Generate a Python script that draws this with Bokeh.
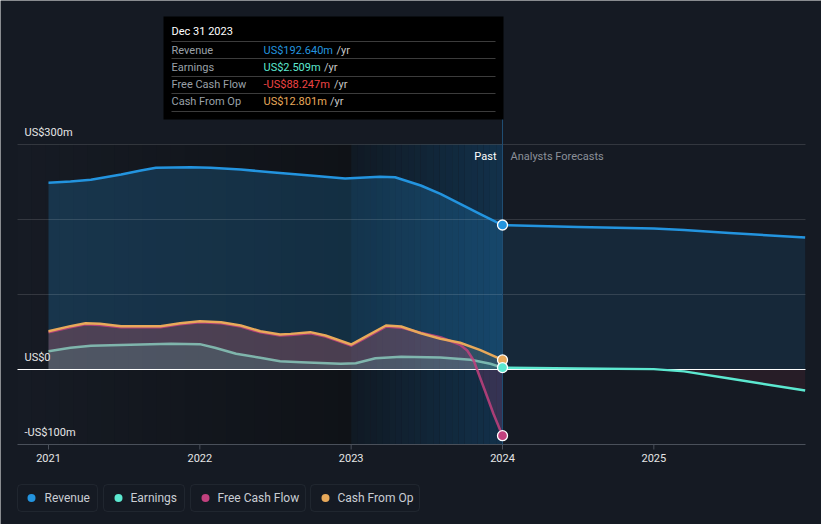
import numpy as np
from bokeh.plotting import figure
from bokeh.models import Range1d, Label, BoxAnnotation
from bokeh.embed import file_html
from bokeh.resources import INLINE

# ---------------- data (fractional years, US$ millions) ----------------
revenue_dates = [2021.00, 2021.145, 2021.28, 2021.48, 2021.61, 2021.71, 2021.94, 2022.07, 2022.27,
                 2022.47, 2022.73, 2022.96, 2023.19, 2023.29, 2023.46, 2023.59, 2023.72, 2023.85,
                 2024.00]
revenue_past = [249, 250.7, 253, 260, 265.3, 268.9, 269.7, 269, 266.7,
                263, 258.7, 254.7, 257, 256.4, 245.3, 234.2, 220.9, 207.6,
                192.64]

earnings_dates = [2021.00, 2021.145, 2021.28, 2021.54, 2021.81, 2022.00, 2022.10, 2022.24, 2022.40,
                  2022.53, 2022.67, 2022.93, 2023.03, 2023.16, 2023.33, 2023.59, 2023.79, 2023.92,
                  2024.00]
earnings_past = [24.4, 28.9, 31.6, 32.9, 34.2, 33.8, 28.9, 20.9, 15.6,
                 11.1, 9.8, 7.6, 8.4, 15.1, 16.9, 16, 12.9, 7.6,
                 2.509]

cfo_dates = [2021.00, 2021.145, 2021.245, 2021.34, 2021.48, 2021.74, 2021.87, 2022.00, 2022.14,
             2022.27, 2022.40, 2022.53, 2022.60, 2022.73, 2022.83, 2023.00, 2023.09, 2023.23,
             2023.33, 2023.46, 2023.59, 2023.72, 2023.85, 2024.00]
cfo_past = [51, 57.8, 61.8, 60.9, 57.8, 57.8, 61.8, 64.4, 63,
            58.7, 51, 46.7, 47.5, 49.8, 45.3, 33.3, 43.1, 58.7,
            57.3, 48.4, 40.9, 35.6, 26.2, 12.801]

fcf_dates = [2021.00, 2021.145, 2021.245, 2021.34, 2021.48, 2021.74, 2021.87, 2022.00, 2022.14,
             2022.27, 2022.40, 2022.53, 2022.60, 2022.73, 2022.83, 2023.00, 2023.09, 2023.23,
             2023.33, 2023.46, 2023.59, 2023.72, 2023.767, 2023.81, 2023.85, 2023.90, 2023.94,
             2024.00]
fcf_past = [49.5, 56.3, 60.3, 59.4, 56.3, 56.3, 60.3, 62.9, 61.5,
            57.2, 49.5, 45.2, 46, 48.3, 43.8, 31.8, 41.6, 57.2,
            55.8, 49, 43, 33, 25.3, 12, -10, -37, -59,
            -88.247]

forecast_dates = [2024.0, 2024.5, 2025.0, 2025.2, 2025.5, 2026.0]
revenue_forecast = [192.64, 190, 188, 186, 182, 176]
earnings_forecast = [2.509, 1.3, 0.5, -2.5, -12, -28]

grid_values = [300, 200, 100]
y_tick_values = [300, 0, -100]
y_tick_labels = ["US$300m", "US$0", "-US$100m"]
x_tick_values = [2021, 2022, 2023, 2024, 2025]
x_tick_labels = ["2021", "2022", "2023", "2024", "2025"]

tooltip_title = "Dec 31 2023"
tooltip_names = ["Revenue", "Earnings", "Free Cash Flow", "Cash From Op"]
tooltip_values = ["US$192.640m", "US$2.509m", "-US$88.247m", "US$12.801m"]
legend_names = ["Revenue", "Earnings", "Free Cash Flow", "Cash From Op"]

# ---------------- style ----------------
BG = "#151a23"
REV = "#2394df"
EARN = "#5ce8d0"
EARN_PAST = "#8ccfc0"
FCF = "#c2417e"
CFO = "#e8a95a"
FCF_TXT = "#ef4444"
FONT = "Roboto"

W, H = 821, 524
PPY = (502 - 48) / 3.0  # pixels per year


def dx(px):
    return 2021 + (px - 48) / PPY


def dy(py):
    return (369 - py) / 0.75


def mix(c1, c2, t):
    a = [int(c1[i:i + 2], 16) for i in (1, 3, 5)]
    b = [int(c2[i:i + 2], 16) for i in (1, 3, 5)]
    return "#" + "".join("%02x" % int(round(a[k] + (b[k] - a[k]) * t)) for k in range(3))


p = figure(width=W, height=H, x_range=Range1d(dx(0), dx(W)), y_range=Range1d(dy(H), dy(0)),
           output_backend="svg", toolbar_location=None, min_border=0,
           x_axis_location=None, y_axis_location=None,
           background_fill_color=BG, border_fill_color=BG, outline_line_color=None)
p.grid.visible = False

# background bands (gradient look)
n = 24
edges = np.linspace(17, 351, n + 1)
for i in range(n):
    p.quad(left=dx(edges[i]), right=dx(edges[i + 1]), top=dy(144), bottom=dy(444),
           fill_color=mix("#161b24", "#0f1217", (i + 0.5) / n), line_color=None)
edges = np.linspace(351, 502, n + 1)
for i in range(n):
    p.quad(left=dx(edges[i]), right=dx(edges[i + 1]), top=dy(144), bottom=dy(444),
           fill_color=mix("#101923", "#12314b", (i + 0.5) / n), line_color=None)

# area fills
p.varea(x=revenue_dates, y1=0, y2=revenue_past, fill_color=REV, fill_alpha=0.22)
p.varea(x=forecast_dates, y1=0, y2=revenue_forecast, fill_color=REV, fill_alpha=0.12)
p.varea(x=cfo_dates, y1=0, y2=cfo_past, fill_color=CFO, fill_alpha=0.12)
p.varea(x=fcf_dates, y1=0, y2=fcf_past, fill_color=FCF, fill_alpha=0.2)
p.varea(x=earnings_dates, y1=0, y2=earnings_past, fill_color=EARN, fill_alpha=0.12)
p.varea(x=forecast_dates, y1=0, y2=earnings_forecast, fill_color="#d0384e", fill_alpha=0.1)

# grid lines
for g in grid_values:
    p.segment(x0=dx(17), x1=dx(805), y0=g, y1=g, line_color="#ffffff", line_alpha=0.13, line_width=1)
p.segment(x0=dx(17), x1=dx(805), y0=-100, y1=-100, line_color="#4a505a", line_width=1)
for t in x_tick_values:
    p.segment(x0=t, x1=t, y0=-100, y1=dy(449), line_color="#4a505a", line_width=1)

# zero line
p.segment(x0=dx(17), x1=dx(805), y0=0, y1=0, line_color="#ffffff", line_width=1.2)

# vertical "now" line
p.segment(x0=2024, x1=2024, y0=dy(118), y1=dy(444), line_color="#1f4d72", line_width=1)

# series lines
p.line(revenue_dates, revenue_past, line_color=REV, line_width=2.5, line_join="round")
p.line(forecast_dates, revenue_forecast, line_color=REV, line_width=2.5, line_join="round")
p.line(earnings_dates, earnings_past, line_color=EARN_PAST, line_width=2.5, line_alpha=0.8, line_join="round")
p.line(forecast_dates, earnings_forecast, line_color=EARN, line_width=2.5, line_join="round")
p.line(fcf_dates, fcf_past, line_color=FCF, line_width=2.5, line_alpha=0.85, line_join="round")
p.line(cfo_dates, cfo_past, line_color=CFO, line_width=2.5, line_join="round")

# end-point markers
p.scatter(x=[revenue_dates[-1], cfo_dates[-1], earnings_dates[-1], fcf_dates[-1]],
          y=[revenue_past[-1], cfo_past[-1], earnings_past[-1], fcf_past[-1]],
          fill_color=[REV, CFO, EARN, FCF], line_color="white", line_width=1.3, size=10)

# y labels
for v, t in zip(y_tick_values, y_tick_labels):
    p.add_layout(Label(x=dx(24), y=v + 12 / 0.75, text=t, text_font=FONT, text_font_size="11px",
                       text_color="#e6e6e6", text_baseline="middle", text_align="left"))

# x tick labels
for v, t in zip(x_tick_values, x_tick_labels):
    p.add_layout(Label(x=v, y=dy(457.5), text=t, text_font=FONT, text_font_size="11px",
                       text_color="#e6e6e6", text_baseline="middle", text_align="center"))

# Past / forecasts
p.add_layout(Label(x=dx(496), y=dy(156), text="Past", text_font=FONT, text_font_size="11px",
                   text_color="#ffffff", text_baseline="middle", text_align="right"))
p.add_layout(Label(x=dx(510), y=dy(156), text="Analysts Forecasts", text_font=FONT,
                   text_font_size="11px", text_color="#8b9099", text_baseline="middle",
                   text_align="left"))

# tooltip
p.quad(left=dx(163), right=dx(503), top=dy(16), bottom=dy(119), fill_color="#000000", line_color=None)
for yy in [41, 58, 76, 93, 111]:
    p.segment(x0=dx(171), x1=dx(495), y0=dy(yy), y1=dy(yy), line_color="#3c3c3c", line_width=1)
p.add_layout(Label(x=dx(171), y=dy(31), text=tooltip_title, text_font=FONT, text_font_size="11px",
                   text_color="#ffffff", text_baseline="middle", text_align="left"))
row_y = [49.5, 66.5, 84, 101]
val_colors = [REV, EARN, FCF_TXT, CFO]
yr_x = [336, 323.5, 333.5, 329.5]
for i in range(4):
    p.add_layout(Label(x=dx(171), y=dy(row_y[i]), text=tooltip_names[i], text_font=FONT,
                       text_font_size="11px", text_color="#9aa0a8", text_baseline="middle",
                       text_align="left"))
    p.add_layout(Label(x=dx(263), y=dy(row_y[i]), text=tooltip_values[i], text_font=FONT,
                       text_font_size="11px", text_color=val_colors[i], text_baseline="middle",
                       text_align="left"))
    p.add_layout(Label(x=dx(yr_x[i]), y=dy(row_y[i]), text="/yr", text_font=FONT,
                       text_font_size="11px", text_color="#c8c8c8", text_baseline="middle",
                       text_align="left"))

# legend
boxes = [(17, 97), (103, 184), (190, 305), (310, 419)]
dots = [31, 118, 205, 325]
texts_x = [44, 130, 217, 337]
leg_colors = [REV, EARN, FCF, CFO]
for i in range(4):
    p.add_layout(BoxAnnotation(left=dx(boxes[i][0]), right=dx(boxes[i][1]), top=dy(484), bottom=dy(511),
                               fill_alpha=0, line_color="#3b414b", line_width=1, border_radius=4))
    p.add_layout(Label(x=dx(texts_x[i]), y=dy(497.5), text=legend_names[i], text_font=FONT,
                       text_font_size="12px", text_color="#c9cdd3", text_baseline="middle",
                       text_align="left"))
p.scatter(x=[dx(d) for d in dots], y=[dy(497.5)] * 4, fill_color=leg_colors, line_color=None, size=8)

open("out.html", "w").write(file_html(p, INLINE))
